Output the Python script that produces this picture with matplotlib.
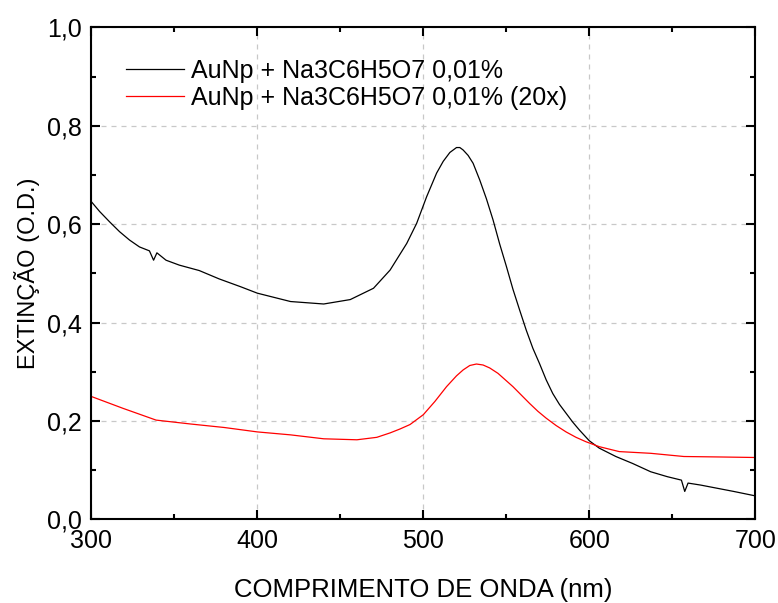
import matplotlib
matplotlib.use('Agg')
import matplotlib.pyplot as plt
from matplotlib.ticker import MultipleLocator, FuncFormatter

plt.rcParams['font.family'] = ['Liberation Sans', 'DejaVu Sans']

# extinction spectra
wl_black = [300, 305, 311, 317, 323, 329, 335, 337.5, 339.5, 345, 353, 365,
            377, 390, 400, 420, 440, 456, 470, 480, 490, 496, 502, 508, 512,
            516, 520, 522, 524, 527, 530, 534, 538, 542, 546, 550, 554, 558,
            562, 566, 570, 574, 578, 582, 586, 590, 594, 600, 606, 616, 626,
            637, 647, 655.5, 657.5, 659.5, 667, 687, 700]
ext_black = [0.646, 0.626, 0.605, 0.585, 0.568, 0.554, 0.546, 0.527, 0.542,
             0.527, 0.517, 0.506, 0.489, 0.473, 0.460, 0.443, 0.438, 0.447,
             0.470, 0.507, 0.561, 0.602, 0.656, 0.704, 0.728, 0.746, 0.756,
             0.756, 0.751, 0.740, 0.724, 0.690, 0.652, 0.609, 0.560, 0.515,
             0.468, 0.426, 0.385, 0.348, 0.317, 0.284, 0.256, 0.234, 0.216,
             0.198, 0.182, 0.160, 0.145, 0.128, 0.114, 0.097, 0.087, 0.080,
             0.057, 0.074, 0.070, 0.057, 0.048]

wl_red = [300, 319, 339, 360, 380, 400, 420, 440, 460, 472, 480, 486, 492,
          500, 507, 514, 520, 524, 528, 532, 536, 540, 545, 550, 554, 559,
          564, 569, 574, 580, 586, 592, 598, 606, 618, 637, 657, 680, 700]
ext_red = [0.250, 0.226, 0.202, 0.194, 0.187, 0.178, 0.172, 0.164, 0.162,
           0.167, 0.176, 0.184, 0.193, 0.213, 0.240, 0.270, 0.292, 0.304,
           0.313, 0.316, 0.314, 0.308, 0.297, 0.282, 0.270, 0.253, 0.236,
           0.220, 0.206, 0.191, 0.178, 0.167, 0.158, 0.148, 0.138, 0.1345,
           0.128, 0.127, 0.126]

labels = ['AuNp + Na3C6H5O7 0,01%', 'AuNp + Na3C6H5O7 0,01% (20x)']

fig = plt.figure(figsize=(7.78, 6.03), dpi=100)
ax = fig.add_axes([0.1174, 0.1385, 0.8534, 0.8159])

ax.plot(wl_black, ext_black, color='black', lw=0.9, label=labels[0])
ax.plot(wl_red, ext_red, color='red', lw=0.9, label=labels[1])

ax.set_xlim(300, 700)
ax.set_ylim(0, 1.0)
ax.xaxis.set_major_locator(MultipleLocator(100))
ax.xaxis.set_minor_locator(MultipleLocator(50))
ax.yaxis.set_major_locator(MultipleLocator(0.2))
ax.yaxis.set_minor_locator(MultipleLocator(0.1))
ax.yaxis.set_major_formatter(FuncFormatter(lambda v, p: f'{v:.1f}'.replace('.', ',')))

ax.tick_params(which='both', direction='in', top=True, right=True,
               labelsize=18, width=1.5)
ax.tick_params(which='major', length=6.5, pad=7)
ax.tick_params(which='minor', length=3.5)
for s in ax.spines.values():
    s.set_linewidth(1.5)

ax.grid(True, which='major', ls=(0, (4, 4)), color='#c8c8c8', lw=0.9)

ax.set_xlabel('COMPRIMENTO DE ONDA (nm)', fontsize=18.5, labelpad=18)
ax.set_ylabel('EXTINÇÃO (O.D.)', fontsize=17, labelpad=5)

ax.legend(loc='upper left', bbox_to_anchor=(0.03, 0.966), frameon=False,
          fontsize=18, handlelength=2.3, handletextpad=0.3,
          labelspacing=0.1, borderaxespad=0.2)

fig.savefig('out.png', dpi=100)
